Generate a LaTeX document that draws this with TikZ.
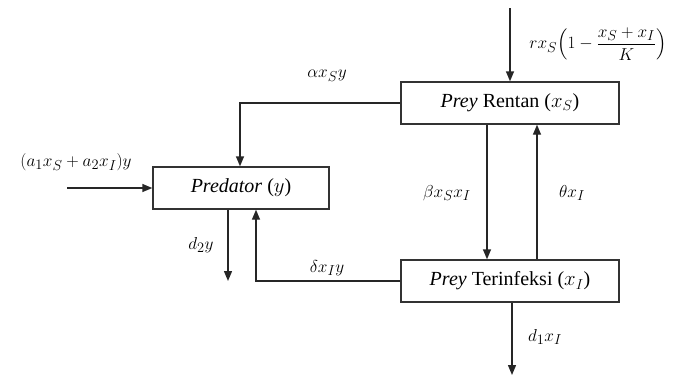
\documentclass[tikz,border=0pt]{standalone}
\usepackage{amsmath}
\usepackage{fontspec}
\setmainfont{Liberation Serif}
\usetikzlibrary{arrows.meta}
\begin{document}
\begin{tikzpicture}[x=1pt,y=-1pt,
  box/.style={draw=black!80,line width=1.4pt,minimum height=42pt,inner sep=0pt,font=\fontsize{20}{24}\selectfont},
  flow/.style={line width=1.4pt,draw=black!85,-{Triangle[length=10pt,width=8pt]}},
  lbl/.style={font=\fontsize{19}{23}\selectfont,inner sep=0pt}]
\useasboundingbox (0,0) rectangle (683,376);
\node[box,minimum width=218pt] (S) at (510,103) {\textit{Prey} Rentan ($x_S$)};
\node[box,minimum width=218pt] (I) at (510,281) {\textit{Prey} Terinfeksi ($x_I$)};
\node[box,minimum width=176pt] (P) at (241,188) {\textit{Predator} ($y$)};
\coordinate (top) at (510,8);
\coordinate (inP) at (67,188);
\coordinate (d2) at (228,281);
\coordinate (d1) at (512,375);
\coordinate (xa) at (240,0);
\coordinate (xd) at (256,0);
\coordinate (xb) at (487,0);
\coordinate (xt) at (537,0);
\draw[flow] (top) -- (S.north -| top);
\draw[flow] (inP) -- (P.west);
\draw[flow] (S.west) -| (P.north -| xa);
\draw[flow] (I.west) -| (P.south -| xd);
\draw[flow] (P.south -| d2) -- (d2);
\draw[flow] (I.south -| d1) -- (d1);
\draw[flow] (S.south -| xb) -- (I.north -| xb);
\draw[flow] (I.north -| xt) -- (S.south -| xt);
\node[lbl] (lr) at (598,44) {$rx_S\!\left(1-\dfrac{x_S+x_I}{K}\right)$};
\node[lbl] (la) at (327,76) {$\alpha x_S y$};
\node[lbl] (lp) at (76,162) {$(a_1x_S+a_2x_I)y$};
\node[lbl] (lb) at (447,193) {$\beta x_S x_I$};
\node[lbl] (lt) at (572,193) {$\theta x_I$};
\node[lbl] (ld2) at (201,245) {$d_2y$};
\node[lbl] (ld) at (327,268) {$\delta x_I y$};
\node[lbl] (ld1) at (545,337) {$d_1x_I$};
\end{tikzpicture}
\end{document}
